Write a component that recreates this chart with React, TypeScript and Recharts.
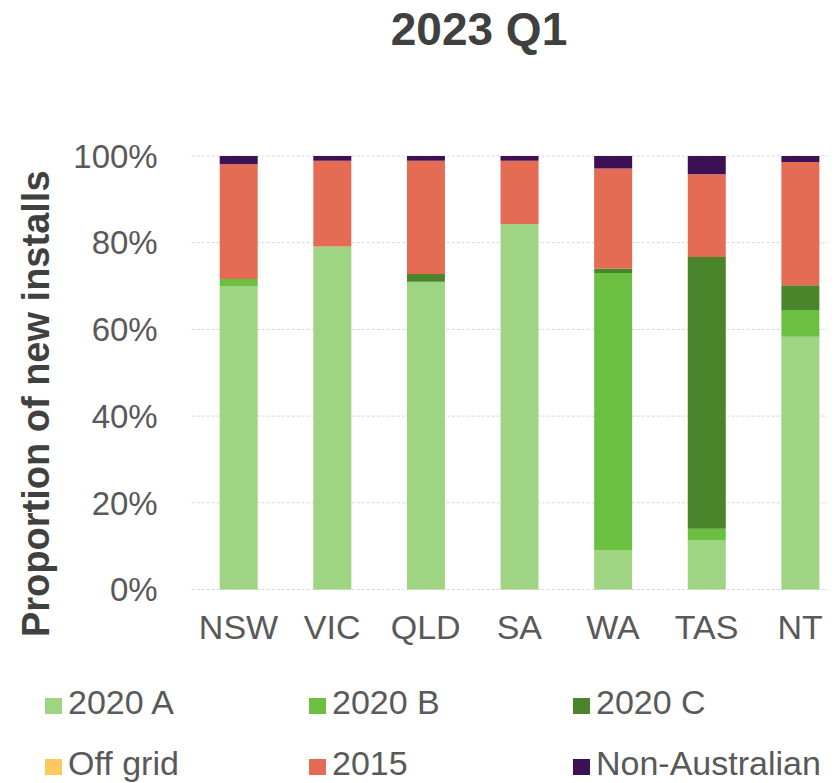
import { BarChart, Bar, XAxis, YAxis, CartesianGrid, Legend } from 'recharts'

const states = ['NSW', 'VIC', 'QLD', 'SA', 'WA', 'TAS', 'NT']
const install2020A = [69.9, 79.1, 71.0, 84.3, 9.0, 11.3, 58.3]
const install2020B = [1.7, 0, 0, 0, 64.1, 2.7, 6.2]
const install2020C = [0, 0, 1.8, 0, 1.0, 62.8, 5.7]
const offGrid = [0, 0, 0, 0, 0, 0, 0]
const install2015 = [26.5, 19.8, 26.1, 14.6, 23.1, 19.1, 28.4]
const nonAustralian = [1.9, 1.1, 1.1, 1.1, 2.9, 4.2, 1.4]
const yTicks = [0, 0.2, 0.4, 0.6, 0.8, 1]

const series = [
  { key: 'a2020', name: '2020 A', color: '#9fd582', values: install2020A },
  { key: 'b2020', name: '2020 B', color: '#6bbf41', values: install2020B },
  { key: 'c2020', name: '2020 C', color: '#4a852b', values: install2020C },
  { key: 'offgrid', name: 'Off grid', color: '#fdc95f', values: offGrid },
  { key: 'y2015', name: '2015', color: '#e46b54', values: install2015 },
  { key: 'nonaus', name: 'Non-Australian', color: '#3d1153', values: nonAustralian },
]

const data = states.map((state, i) => {
  const row: Record<string, string | number> = { state }
  series.forEach((s) => (row[s.key] = s.values[i]))
  return row
})

const font = '"Liberation Sans", Arial, sans-serif'
const textGrey = '#595959'

function LegendBox() {
  return (
    <div style={{ position: 'relative', width: 828, height: 100, fontFamily: font }}>
      {series.map((s, i) => (
        <div
          key={s.key}
          style={{
            position: 'absolute',
            left: 37 + (i % 3) * 264,
            top: Math.floor(i / 3) * 61,
            fontSize: 34,
            lineHeight: 1,
            color: textGrey,
            whiteSpace: 'nowrap',
          }}
        >
          <span style={{ display: 'inline-block', width: 17, height: 16, background: s.color, marginRight: 6 }} />
          {s.name}
        </div>
      ))}
    </div>
  )
}

export default function App() {
  return (
    <div style={{ position: 'relative', width: 828, height: 775, fontFamily: font }}>
      <div style={{ position: 'absolute', left: 0, top: 0, width: 828, height: 775, overflow: 'hidden' }}>
        <BarChart
          width={860}
          height={775}
          data={data}
          stackOffset="expand"
          margin={{ top: 148, right: 21, bottom: 143.5, left: 0 }}
        >
          <CartesianGrid vertical={false} stroke="#d6d6d6" strokeDasharray="3 2" />
          <XAxis
            dataKey="state"
            axisLine={false}
            tickLine={false}
            tickSize={0}
            tickMargin={25}
            height={50}
            interval={0}
            tick={{ fill: textGrey, fontSize: 34, fontFamily: font }}
          />
          <YAxis
            domain={[0, 1]}
            ticks={yTicks}
            tickFormatter={(v) => `${Math.round(v * 100)}%`}
            axisLine={false}
            tickLine={false}
            tickSize={0}
            tickMargin={34}
            width={183.7}
            tick={{ fill: textGrey, fontSize: 33, fontFamily: font }}
            label={({ viewBox }: any) => {
              const cy = viewBox.y + viewBox.height / 2 + 31
              return (
                <text
                  x={41}
                  y={cy}
                  transform={`rotate(-90, 41, ${cy})`}
                  textAnchor="middle"
                  fill="#404040"
                  fontSize={38}
                  fontWeight="bold"
                  fontFamily={font}
                >
                  Proportion of new installs
                </text>
              )
            }}
          />
          <Legend
            layout="horizontal"
            verticalAlign="middle"
            align="center"
            wrapperStyle={{ top: 677, left: 0, width: 828 }}
            content={() => <LegendBox />}
          />
          {series.map((s) => (
            <Bar
              key={s.key}
              dataKey={s.key}
              name={s.name}
              stackId="a"
              fill={s.color}
              barSize={38}
              isAnimationActive={false}
            />
          ))}
        </BarChart>
      </div>
      <div
        style={{
          position: 'absolute',
          left: 361,
          top: -6,
          width: 220,
          textAlign: 'center',
          fontSize: 46,
          lineHeight: 'normal',
          fontWeight: 'bold',
          color: '#404040',
          whiteSpace: 'nowrap',
        }}
      >
        2023 Q1
      </div>
    </div>
  )
}
